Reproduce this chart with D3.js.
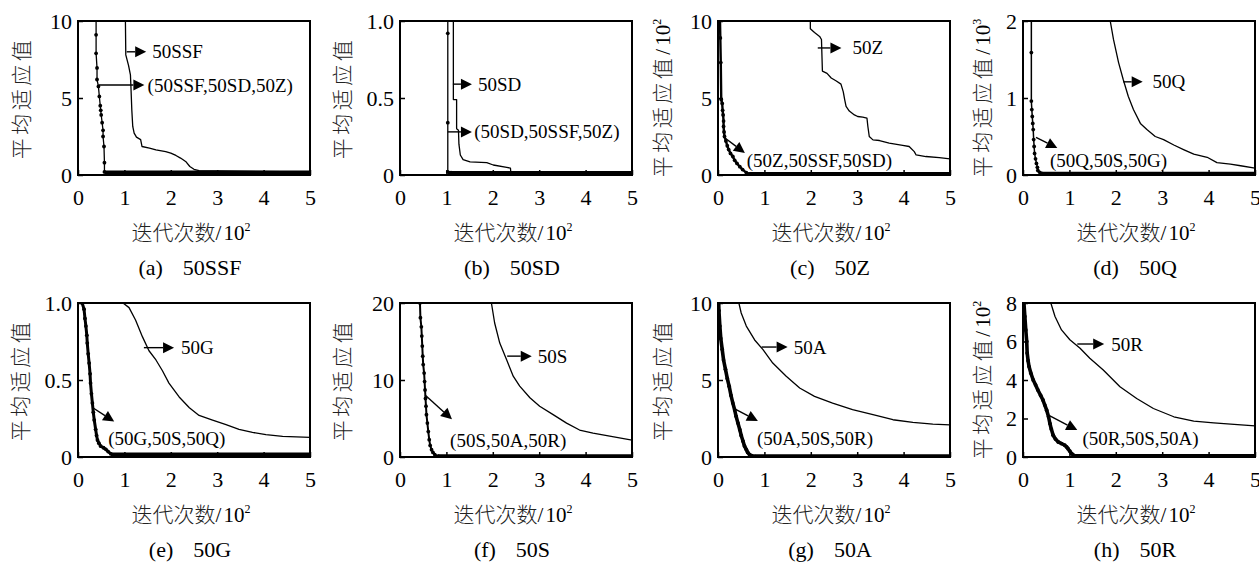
<!DOCTYPE html>
<html><head><meta charset="utf-8">
<script src="https://cdn.jsdelivr.net/npm/d3@7"></script>
<style>
body{margin:0;background:#fff}
svg text{font-family:"Liberation Serif","Times New Roman","Noto Sans CJK SC",serif;fill:#000}
.cjk{font-family:"Noto Sans CJK SC",sans-serif;font-weight:300;fill:#222}
</style></head><body>
<svg id="chart" width="1259" height="566"></svg>
<script>
// ---------- data ----------
const xTicks = [0,1,2,3,4,5];
const xTickLabels = ['0','1','2','3','4','5'];
const panelTags = ['(a)','(b)','(c)','(d)','(e)','(f)','(g)','(h)'];
const panelNames = ['50SSF','50SD','50Z','50Q','50G','50S','50A','50R'];
const yMaxes = [10, 1, 10, 2, 1, 20, 10, 8];
const yUnits = ['', '', '2', '3', '', '', '', '2'];
const yTicksA=[0,5,10],  yTickLabelsA=['0','5','10'];
const yTicksB=[0,0.5,1], yTickLabelsB=['0','0.5','1.0'];
const yTicksC=[0,5,10],  yTickLabelsC=['0','5','10'];
const yTicksD=[0,1,2],   yTickLabelsD=['0','1','2'];
const yTicksE=[0,0.5,1], yTickLabelsE=['0','0.5','1.0'];
const yTicksF=[0,10,20], yTickLabelsF=['0','10','20'];
const yTicksG=[0,5,10],  yTickLabelsG=['0','5','10'];
const yTicksH=[0,2,4,6,8], yTickLabelsH=['0','2','4','6','8'];

// compared algorithm (thin line)
const slowA=[[1.02,10.5],[1.03,7.8],[1.09,7.1],[1.13,6.5],[1.14,5.8],[1.16,4.2],[1.18,3.15],[1.21,2.72],[1.26,2.46],[1.35,2.3],[1.38,1.85],[1.54,1.75],[1.68,1.63],[1.89,1.52],[2.0,1.42],[2.11,1.27],[2.21,1.1],[2.32,0.88],[2.41,0.55],[2.5,0.37],[2.61,0.28],[5,0.2]];
const slowB=[[1.15,1.05],[1.15,0.49],[1.22,0.49],[1.22,0.3],[1.26,0.29],[1.27,0.2],[1.3,0.13],[1.36,0.1],[1.51,0.085],[1.87,0.08],[2.01,0.065],[2.3,0.05],[2.38,0.045],[2.39,0.012],[5,0.012]];
const slowC=[[1.99,10.5],[1.99,9.5],[2.08,9.25],[2.19,9.0],[2.23,8.8],[2.25,6.75],[2.35,6.6],[2.44,6.3],[2.55,6.1],[2.65,5.9],[2.7,5.4],[2.73,4.9],[2.76,4.45],[2.83,4.15],[2.94,3.9],[3.01,3.8],[3.12,3.76],[3.21,3.7],[3.23,3.15],[3.26,2.5],[3.34,2.28],[3.48,2.24],[3.69,2.07],[3.98,1.92],[4.12,1.85],[4.23,1.52],[4.27,1.3],[4.48,1.2],[4.77,1.13],[5,1.05]];
const slowD=[[1.86,2.1],[1.88,2.0],[1.95,1.76],[2.06,1.46],[2.16,1.24],[2.27,1.02],[2.38,0.85],[2.53,0.67],[2.67,0.59],[2.85,0.5],[3.03,0.46],[3.25,0.39],[3.46,0.33],[3.68,0.27],[3.97,0.23],[4.18,0.16],[4.47,0.14],[4.69,0.12],[5,0.09]];
const slowE=[[0.97,1.0],[1.1,0.97],[1.24,0.89],[1.39,0.78],[1.53,0.69],[1.68,0.63],[1.82,0.56],[1.96,0.48],[2.18,0.39],[2.4,0.32],[2.61,0.27],[2.9,0.24],[3.19,0.21],[3.47,0.18],[3.76,0.16],[4.05,0.145],[4.41,0.134],[5,0.128]];
const slowF=[[1.97,21],[1.97,20],[2.04,17.4],[2.15,14.8],[2.3,12.6],[2.44,10.5],[2.58,9.2],[2.8,7.7],[3.01,6.6],[3.3,5.5],[3.59,4.4],[3.87,3.5],[4.16,3.1],[4.52,2.7],[5,2.2]];
const slowG=[[0.45,10],[0.5,9.35],[0.61,8.5],[0.79,7.6],[0.97,6.97],[1.18,6.1],[1.47,5.24],[1.76,4.48],[2.08,3.94],[2.47,3.5],[2.9,3.07],[3.34,2.75],[3.77,2.42],[4.2,2.25],[4.63,2.14],[5,2.08]];
const slowH=[[0.6,8],[0.69,7.3],[0.83,6.6],[1.01,6.09],[1.23,5.65],[1.44,5.13],[1.73,4.52],[2.09,3.65],[2.45,3.04],[2.81,2.52],[3.25,2.09],[3.68,1.86],[4.11,1.77],[4.55,1.69],[5,1.62]];

// proposed algorithm (line with dot markers)
const fastA=[[0.39,10.5],[0.39,9.1],[0.39,7.9],[0.41,6.95],[0.41,6.2],[0.44,5.75],[0.46,5.1],[0.48,4.5],[0.49,4.2],[0.5,3.9],[0.52,3.4],[0.54,2.9],[0.54,2.5],[0.56,1.85],[0.57,0.8],[0.57,0.2]];
const fastB=[[1.03,1.05],[1.03,0.92],[1.03,0.34],[1.03,0.02],[1.1,0.015]];
const fastC=[[0.04,10.5],[0.05,8.9],[0.06,7.3],[0.07,4.9],[0.09,4.65],[0.1,4.2],[0.11,3.9],[0.12,3.5],[0.12,3.15],[0.13,2.8],[0.14,2.5],[0.17,2.2],[0.2,1.9],[0.23,1.65],[0.27,1.4],[0.32,1.2],[0.36,0.95],[0.41,0.75],[0.47,0.54],[0.53,0.35],[0.61,0.15],[0.68,0.07]];
const fastD=[[0.18,2.1],[0.18,1.59],[0.18,0.96],[0.19,0.85],[0.2,0.76],[0.21,0.67],[0.22,0.59],[0.23,0.46],[0.24,0.37],[0.25,0.28],[0.27,0.21],[0.29,0.15],[0.31,0.1],[0.32,0.06],[0.36,0.035],[0.4,0.02]];
const fastE=[[0.08,1.05],[0.09,1.0],[0.13,0.96],[0.15,0.9],[0.17,0.85],[0.19,0.79],[0.2,0.74],[0.22,0.67],[0.24,0.61],[0.26,0.54],[0.27,0.48],[0.29,0.41],[0.31,0.35],[0.33,0.29],[0.35,0.24],[0.38,0.18],[0.4,0.14],[0.42,0.11],[0.45,0.09],[0.49,0.07],[0.55,0.06],[0.6,0.05],[0.65,0.035],[0.71,0.02]];
const fastF=[[0.43,21],[0.43,20],[0.44,18.1],[0.46,16.9],[0.47,15.7],[0.48,14.4],[0.49,13.1],[0.5,12],[0.52,10.9],[0.53,9.8],[0.54,8.7],[0.55,7.6],[0.56,6.6],[0.57,5.5],[0.59,4.4],[0.61,3.3],[0.63,2.25],[0.65,1.5],[0.68,0.95],[0.71,0.6],[0.75,0.3],[0.82,0.1]];
const fastG=[[0.01,10.5],[0.02,9.5],[0.04,8.5],[0.06,7.7],[0.09,7.0],[0.12,6.3],[0.16,5.7],[0.2,5.1],[0.24,4.6],[0.28,4.0],[0.32,3.5],[0.36,3.05],[0.39,2.64],[0.43,2.2],[0.47,1.77],[0.5,1.4],[0.54,1.02],[0.57,0.72],[0.61,0.48],[0.64,0.3],[0.68,0.15],[0.73,0.08],[0.79,0.04]];
const fastH=[[0.01,8.2],[0.02,8],[0.04,7.3],[0.06,6.6],[0.08,6.0],[0.09,5.4],[0.11,5.0],[0.13,4.7],[0.17,4.35],[0.22,4.0],[0.27,3.75],[0.32,3.48],[0.38,3.2],[0.43,2.96],[0.47,2.7],[0.51,2.43],[0.55,2.1],[0.58,1.74],[0.61,1.45],[0.65,1.13],[0.7,0.93],[0.76,0.78],[0.83,0.7],[0.9,0.61],[0.94,0.52],[0.97,0.43],[1.01,0.3],[1.05,0.17],[1.12,0.05]];

// converged tails of the proposed algorithm (dense overlapping markers)
const tailA=[[0.57,0.16],[5,0.16]];
const tailB=[[1.03,0.013],[5,0.013]];
const tailC=[[0.68,0.06],[5,0.06]];
const tailD=[[0.4,0.015],[5,0.015]];
const tailE=[[0.71,0.015],[5,0.015]];
const tailF=[[0.82,0.08],[5,0.08]];
const tailG=[[0.79,0.04],[5,0.04]];
const tailH=[[1.12,0.05],[5,0.05]];

const annTexts = [
  ['50SSF','(50SSF,50SD,50Z)'],['50SD','(50SD,50SSF,50Z)'],['50Z','(50Z,50SSF,50SD)'],['50Q','(50Q,50S,50G)'],
  ['50G','(50G,50S,50Q)'],['50S','(50S,50A,50R)'],['50A','(50A,50S,50R)'],['50R','(50R,50S,50A)']
];

// ---------- layout / style ----------
const cols=[78,400,718,1023], rows=[21,303], W=232, H=154;
const yLabelOff=[56,57,55,40,57,57,55,40];
const fastWidth=[1.3,1.3,2.4,1.5,3,2,3.6,3.6];
const annPos = [
  [{f:[1.05,8.0],t:[1.47,8.0],a:[1.6,8.0]},{f:[0.45,5.84],t:[1.43,5.84],a:[1.5,5.84]}],
  [{f:[1.14,0.59],t:[1.55,0.59],a:[1.68,0.59]},{f:[1.03,0.28],t:[1.55,0.28],a:[1.6,0.28]}],
  [{f:[2.15,8.25],t:[2.66,8.25],a:[2.9,8.25]},{f:[0.15,2.4],t:[0.58,1.43],a:[0.62,0.97]}],
  [{f:[2.16,1.21],t:[2.58,1.21],a:[2.79,1.21]},{f:[0.28,0.49],t:[0.74,0.35],a:[0.58,0.19]}],
  [{f:[1.42,0.71],t:[2.07,0.71],a:[2.22,0.71]},{f:[0.32,0.32],t:[0.78,0.23],a:[0.65,0.12]}],
  [{f:[2.31,13.1],t:[2.84,13.1],a:[2.97,13.1]},{f:[0.54,8.05],t:[1.12,4.9],a:[1.08,2.2]}],
  [{f:[0.94,7.14],t:[1.5,7.14],a:[1.63,7.14]},{f:[0.36,3.12],t:[0.86,2.34],a:[0.84,1.23]}],
  [{f:[1.17,5.87],t:[1.75,5.87],a:[1.9,5.87]},{f:[0.58,2.13],t:[1.17,1.4],a:[1.28,0.94]}]
];

const slows=[slowA,slowB,slowC,slowD,slowE,slowF,slowG,slowH];
const fasts=[fastA,fastB,fastC,fastD,fastE,fastF,fastG,fastH];
const tails=[tailA,tailB,tailC,tailD,tailE,tailF,tailG,tailH];
const yTicksAll=[yTicksA,yTicksB,yTicksC,yTicksD,yTicksE,yTicksF,yTicksG,yTicksH];
const yTickLabelsAll=[yTickLabelsA,yTickLabelsB,yTickLabelsC,yTickLabelsD,yTickLabelsE,yTickLabelsF,yTickLabelsG,yTickLabelsH];

const svg = d3.select('#chart');
const SERIF='Liberation Serif, Times New Roman, serif';

for (let i=0;i<8;i++){
  const left=cols[i%4], top=rows[Math.floor(i/4)];
  const x=d3.scaleLinear().domain([0,5]).range([left,left+W]);
  const y=d3.scaleLinear().domain([0,yMaxes[i]]).range([top+H,top]);
  const g=svg.append('g');
  const cid='clip'+i;
  svg.append('clipPath').attr('id',cid).append('rect')
    .attr('x',left).attr('y',top).attr('width',W).attr('height',H);
  const line=d3.line().x(d=>x(d[0])).y(d=>y(d[1]));
  const plot=g.append('g').attr('clip-path',`url(#${cid})`);
  plot.append('path').datum(slows[i]).attr('d',line)
    .attr('fill','none').attr('stroke','#000').attr('stroke-width',1.3).attr('stroke-linejoin','round');
  plot.append('path').datum(tails[i]).attr('d',line)
    .attr('fill','none').attr('stroke','#000').attr('stroke-width',4.2);
  plot.append('path').datum(fasts[i]).attr('d',line)
    .attr('fill','none').attr('stroke','#000').attr('stroke-width',fastWidth[i]).attr('stroke-linejoin','round');
  plot.selectAll('circle').data(fasts[i]).join('circle')
    .attr('cx',d=>x(d[0])).attr('cy',d=>y(d[1])).attr('r',1.9).attr('fill','#000');

  // axes (inward ticks)
  const ax=g.append('g').attr('transform',`translate(0,${top+H})`)
    .call(d3.axisBottom(x).tickValues(xTicks).tickSize(-5).tickPadding(14)
      .tickFormat((d,k)=>xTickLabels[k]));
  const ay=g.append('g').attr('transform',`translate(${left},0)`)
    .call(d3.axisLeft(y).tickValues(yTicksAll[i]).tickSize(-5).tickPadding(6)
      .tickFormat((d,k)=>yTickLabelsAll[i][k]));
  [ax,ay].forEach(a=>{
    a.select('.domain').remove();
    a.attr('font-family',SERIF).attr('font-size',22);
    a.selectAll('line').attr('stroke','#000').attr('stroke-width',1.5);
    a.selectAll('text').attr('font-size',22).attr('fill','#000').attr('font-family',SERIF);
  });
  g.append('rect').attr('x',left).attr('y',top).attr('width',W).attr('height',H)
    .attr('fill','none').attr('stroke','#000').attr('stroke-width',2);

  // annotations
  annPos[i].forEach((p,k)=>{
    const x0=x(p.f[0]), y0=y(p.f[1]), x1=x(p.t[0]), y1=y(p.t[1]);
    const len=Math.hypot(x1-x0,y1-y0), ux=(x1-x0)/len, uy=(y1-y0)/len;
    const bx=x1-ux*11, by=y1-uy*11, nx=-uy, ny=ux;
    g.append('line').attr('x1',x0).attr('y1',y0).attr('x2',bx).attr('y2',by)
      .attr('stroke','#000').attr('stroke-width',1.4);
    g.append('path').attr('d',`M${x1},${y1}L${bx+nx*5.5},${by+ny*5.5}L${bx-nx*5.5},${by-ny*5.5}Z`)
      .attr('fill','#000');
    g.append('text').attr('x',x(p.a[0])).attr('y',y(p.a[1])+6.5)
      .attr('font-size',19).text(annTexts[i][k]);
  });

  // x axis label
  const xl=g.append('text').attr('x',left+W/2-3).attr('y',top+H+65)
    .attr('text-anchor','middle').attr('font-size',21);
  xl.append('tspan').attr('class','cjk').text('迭代次数');
  xl.append('tspan').text('/');
  xl.append('tspan').attr('dx',2).text('10');
  xl.append('tspan').attr('font-size',12).attr('dy',-9).text('2');

  // y axis label
  const cx=left-yLabelOff[i], cy=top+H/2;
  const yl=g.append('text').attr('transform',`translate(${cx+7},${cy}) rotate(-90)`)
    .attr('text-anchor','middle').attr('font-size',21);
  yl.append('tspan').attr('class','cjk').attr('letter-spacing',3.5).text('平均适应值');
  if (yUnits[i]){
    yl.append('tspan').text('/');
    yl.append('tspan').attr('dx',3).text('10');
    yl.append('tspan').attr('font-size',12).attr('dy',-9).text(yUnits[i]);
  }

  // caption
  const cap=g.append('text').attr('x',left+W/2-4).attr('y',top+H+100)
    .attr('text-anchor','middle').attr('font-size',22);
  cap.append('tspan').text(panelTags[i]);
  cap.append('tspan').attr('dx',20).text(panelNames[i]);
}
</script>
</body></html>
